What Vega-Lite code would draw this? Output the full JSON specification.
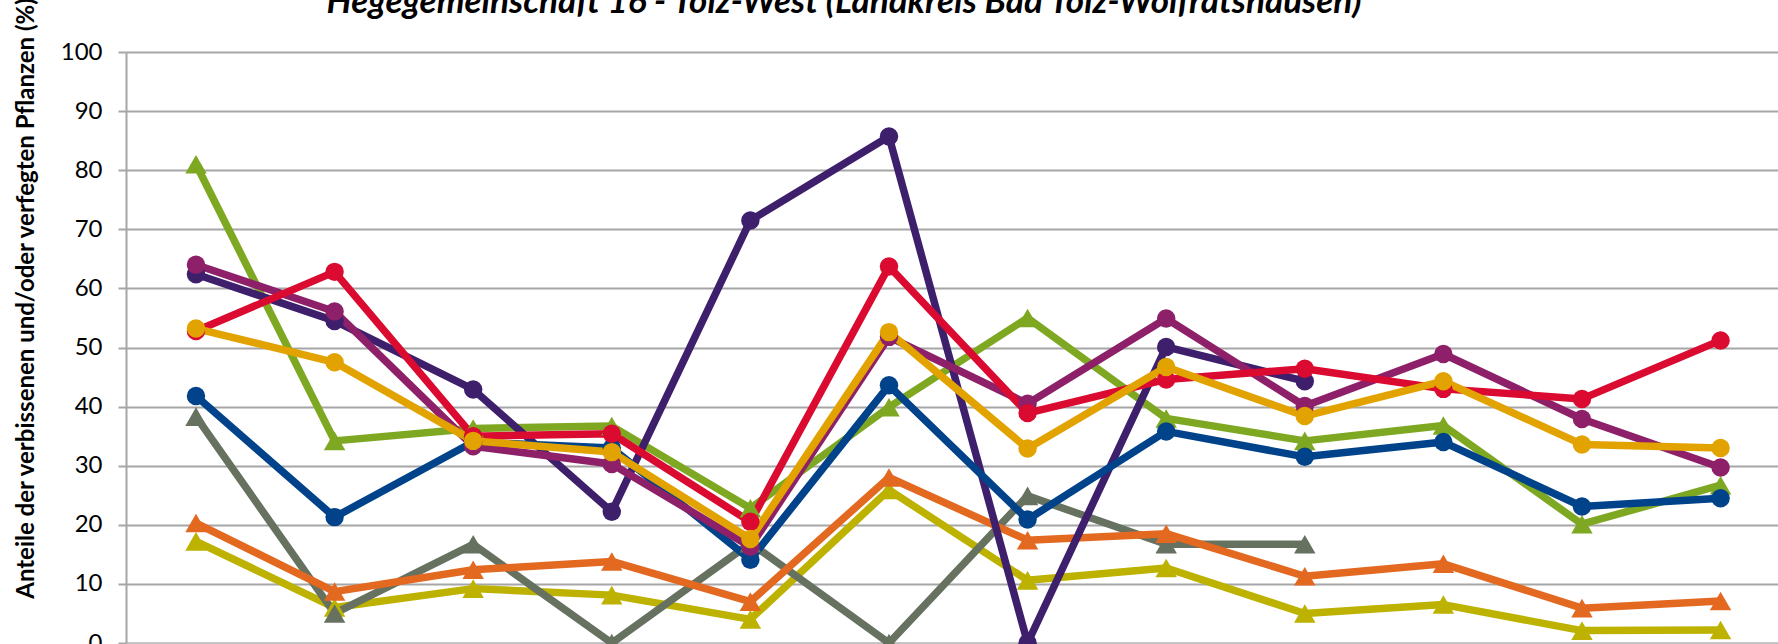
{
  "$schema": "https://vega.github.io/schema/vega-lite/v6.json",
  "autosize": {"type": "none"},
  "width": 1652,
  "height": 591,
  "padding": {"left": 126, "top": 52, "right": 0, "bottom": 1},
  "background": "white",
  "config": {"view": {"stroke": null}},
  "title": {
    "text": "Hegegemeinschaft 16 - Tölz-West (Landkreis Bad Tölz-Wolfratshausen)",
    "font": "Lato",
    "fontSize": 35,
    "fontWeight": "bold",
    "fontStyle": "italic",
    "color": "#000000",
    "anchor": "middle",
    "frame": "group",
    "dx": -108,
    "dy": 51,
    "baseline": "alphabetic",
    "offset": 0
  },
  "data": {
    "values": [
      {"Baumart": "Fichte", "Jahr": 1991, "Anteil": 17.2},
      {"Baumart": "Fichte", "Jahr": 1994, "Anteil": 6.0},
      {"Baumart": "Fichte", "Jahr": 1997, "Anteil": 9.2},
      {"Baumart": "Fichte", "Jahr": 2000, "Anteil": 8.1},
      {"Baumart": "Fichte", "Jahr": 2003, "Anteil": 4.0},
      {"Baumart": "Fichte", "Jahr": 2006, "Anteil": 25.9},
      {"Baumart": "Fichte", "Jahr": 2009, "Anteil": 10.6},
      {"Baumart": "Fichte", "Jahr": 2012, "Anteil": 12.7},
      {"Baumart": "Fichte", "Jahr": 2015, "Anteil": 5.0},
      {"Baumart": "Fichte", "Jahr": 2018, "Anteil": 6.5},
      {"Baumart": "Fichte", "Jahr": 2021, "Anteil": 2.1},
      {"Baumart": "Fichte", "Jahr": 2024, "Anteil": 2.2},

      {"Baumart": "Kiefer", "Jahr": 1991, "Anteil": 38.3},
      {"Baumart": "Kiefer", "Jahr": 1994, "Anteil": 5.0},
      {"Baumart": "Kiefer", "Jahr": 1997, "Anteil": 16.7},
      {"Baumart": "Kiefer", "Jahr": 2000, "Anteil": 0},
      {"Baumart": "Kiefer", "Jahr": 2003, "Anteil": 16.9},
      {"Baumart": "Kiefer", "Jahr": 2006, "Anteil": 0},
      {"Baumart": "Kiefer", "Jahr": 2009, "Anteil": 24.9},
      {"Baumart": "Kiefer", "Jahr": 2012, "Anteil": 16.7},
      {"Baumart": "Kiefer", "Jahr": 2015, "Anteil": 16.7},

      {"Baumart": "Lärche", "Jahr": 1991, "Anteil": 20.3},
      {"Baumart": "Lärche", "Jahr": 1994, "Anteil": 8.7},
      {"Baumart": "Lärche", "Jahr": 1997, "Anteil": 12.4},
      {"Baumart": "Lärche", "Jahr": 2000, "Anteil": 13.8},
      {"Baumart": "Lärche", "Jahr": 2003, "Anteil": 7.0},
      {"Baumart": "Lärche", "Jahr": 2006, "Anteil": 28.0},
      {"Baumart": "Lärche", "Jahr": 2009, "Anteil": 17.4},
      {"Baumart": "Lärche", "Jahr": 2012, "Anteil": 18.5},
      {"Baumart": "Lärche", "Jahr": 2015, "Anteil": 11.3},
      {"Baumart": "Lärche", "Jahr": 2018, "Anteil": 13.4},
      {"Baumart": "Lärche", "Jahr": 2021, "Anteil": 5.9},
      {"Baumart": "Lärche", "Jahr": 2024, "Anteil": 7.1},

      {"Baumart": "Buche", "Jahr": 1991, "Anteil": 81.0},
      {"Baumart": "Buche", "Jahr": 1994, "Anteil": 34.2},
      {"Baumart": "Buche", "Jahr": 1997, "Anteil": 36.3},
      {"Baumart": "Buche", "Jahr": 2000, "Anteil": 36.7},
      {"Baumart": "Buche", "Jahr": 2003, "Anteil": 22.8},
      {"Baumart": "Buche", "Jahr": 2006, "Anteil": 39.9},
      {"Baumart": "Buche", "Jahr": 2009, "Anteil": 55.0},
      {"Baumart": "Buche", "Jahr": 2012, "Anteil": 38.0},
      {"Baumart": "Buche", "Jahr": 2015, "Anteil": 34.2},
      {"Baumart": "Buche", "Jahr": 2018, "Anteil": 36.8},
      {"Baumart": "Buche", "Jahr": 2021, "Anteil": 20.1},
      {"Baumart": "Buche", "Jahr": 2024, "Anteil": 26.7},

      {"Baumart": "Eiche", "Jahr": 1991, "Anteil": 62.4},
      {"Baumart": "Eiche", "Jahr": 1994, "Anteil": 54.5},
      {"Baumart": "Eiche", "Jahr": 1997, "Anteil": 42.9},
      {"Baumart": "Eiche", "Jahr": 2000, "Anteil": 22.2},
      {"Baumart": "Eiche", "Jahr": 2003, "Anteil": 71.5},
      {"Baumart": "Eiche", "Jahr": 2006, "Anteil": 85.7},
      {"Baumart": "Eiche", "Jahr": 2009, "Anteil": 0},
      {"Baumart": "Eiche", "Jahr": 2012, "Anteil": 50.1},
      {"Baumart": "Eiche", "Jahr": 2015, "Anteil": 44.3},

      {"Baumart": "Tanne", "Jahr": 1991, "Anteil": 41.8},
      {"Baumart": "Tanne", "Jahr": 1994, "Anteil": 21.3},
      {"Baumart": "Tanne", "Jahr": 1997, "Anteil": 34.0},
      {"Baumart": "Tanne", "Jahr": 2000, "Anteil": 33.0},
      {"Baumart": "Tanne", "Jahr": 2003, "Anteil": 14.1},
      {"Baumart": "Tanne", "Jahr": 2006, "Anteil": 43.6},
      {"Baumart": "Tanne", "Jahr": 2009, "Anteil": 20.9},
      {"Baumart": "Tanne", "Jahr": 2012, "Anteil": 35.8},
      {"Baumart": "Tanne", "Jahr": 2015, "Anteil": 31.5},
      {"Baumart": "Tanne", "Jahr": 2018, "Anteil": 34.0},
      {"Baumart": "Tanne", "Jahr": 2021, "Anteil": 23.1},
      {"Baumart": "Tanne", "Jahr": 2024, "Anteil": 24.5},

      {"Baumart": "Edellaubholz", "Jahr": 1991, "Anteil": 64.0},
      {"Baumart": "Edellaubholz", "Jahr": 1994, "Anteil": 56.1},
      {"Baumart": "Edellaubholz", "Jahr": 1997, "Anteil": 33.3},
      {"Baumart": "Edellaubholz", "Jahr": 2000, "Anteil": 30.3},
      {"Baumart": "Edellaubholz", "Jahr": 2003, "Anteil": 16.3},
      {"Baumart": "Edellaubholz", "Jahr": 2006, "Anteil": 51.8},
      {"Baumart": "Edellaubholz", "Jahr": 2009, "Anteil": 40.5},
      {"Baumart": "Edellaubholz", "Jahr": 2012, "Anteil": 54.9},
      {"Baumart": "Edellaubholz", "Jahr": 2015, "Anteil": 40.1},
      {"Baumart": "Edellaubholz", "Jahr": 2018, "Anteil": 48.9},
      {"Baumart": "Edellaubholz", "Jahr": 2021, "Anteil": 37.9},
      {"Baumart": "Edellaubholz", "Jahr": 2024, "Anteil": 29.7},

      {"Baumart": "Sonstiges Laubholz", "Jahr": 1991, "Anteil": 52.8},
      {"Baumart": "Sonstiges Laubholz", "Jahr": 1994, "Anteil": 62.8},
      {"Baumart": "Sonstiges Laubholz", "Jahr": 1997, "Anteil": 35.0},
      {"Baumart": "Sonstiges Laubholz", "Jahr": 2000, "Anteil": 35.4},
      {"Baumart": "Sonstiges Laubholz", "Jahr": 2003, "Anteil": 20.5},
      {"Baumart": "Sonstiges Laubholz", "Jahr": 2006, "Anteil": 63.7},
      {"Baumart": "Sonstiges Laubholz", "Jahr": 2009, "Anteil": 38.9},
      {"Baumart": "Sonstiges Laubholz", "Jahr": 2012, "Anteil": 44.6},
      {"Baumart": "Sonstiges Laubholz", "Jahr": 2015, "Anteil": 46.4},
      {"Baumart": "Sonstiges Laubholz", "Jahr": 2018, "Anteil": 43.0},
      {"Baumart": "Sonstiges Laubholz", "Jahr": 2021, "Anteil": 41.3},
      {"Baumart": "Sonstiges Laubholz", "Jahr": 2024, "Anteil": 51.2},

      {"Baumart": "Laubholz gesamt", "Jahr": 1991, "Anteil": 53.2},
      {"Baumart": "Laubholz gesamt", "Jahr": 1994, "Anteil": 47.5},
      {"Baumart": "Laubholz gesamt", "Jahr": 1997, "Anteil": 34.2},
      {"Baumart": "Laubholz gesamt", "Jahr": 2000, "Anteil": 32.3},
      {"Baumart": "Laubholz gesamt", "Jahr": 2003, "Anteil": 17.6},
      {"Baumart": "Laubholz gesamt", "Jahr": 2006, "Anteil": 52.6},
      {"Baumart": "Laubholz gesamt", "Jahr": 2009, "Anteil": 32.9},
      {"Baumart": "Laubholz gesamt", "Jahr": 2012, "Anteil": 46.7},
      {"Baumart": "Laubholz gesamt", "Jahr": 2015, "Anteil": 38.4},
      {"Baumart": "Laubholz gesamt", "Jahr": 2018, "Anteil": 44.3},
      {"Baumart": "Laubholz gesamt", "Jahr": 2021, "Anteil": 33.6},
      {"Baumart": "Laubholz gesamt", "Jahr": 2024, "Anteil": 33.0}
    ]
  },
  "encoding": {
    "x": {
      "field": "Jahr",
      "type": "quantitative",
      "scale": {"domain": [1989.485, 2025.243], "nice": false, "zero": false},
      "axis": {"labels": false, "ticks": false, "title": null, "grid": false, "domainColor": "#bfbfbf", "domainWidth": 2}
    },
    "y": {
      "field": "Anteil",
      "type": "quantitative",
      "scale": {"domain": [0, 100], "nice": false},
      "axis": {
        "values": [0, 10, 20, 30, 40, 50, 60, 70, 80, 90, 100],
        "grid": true,
        "gridColor": "#a6a6a6",
        "gridWidth": 2,
        "domainColor": "#a6a6a6",
        "domainWidth": 2,
        "tickColor": "#a6a6a6",
        "tickWidth": 2,
        "tickSize": 8,
        "labelFont": "Lato",
        "labelFontSize": 24,
        "labelColor": "#000000",
        "labelPadding": 16,
        "title": "Anteile der verbissenen und/oder verfegten Pflanzen (%)",
        "titleFont": "Lato",
        "titleFontSize": 24,
        "titleFontWeight": "bold",
        "titleColor": "#000000",
        "titleAngle": -90,
        "titleAlign": "center",
        "titleBaseline": "middle",
        "titleX": -100,
        "titleY": 246
      }
    },
    "color": {
      "field": "Baumart",
      "type": "nominal",
      "scale": {
        "domain": ["Fichte", "Kiefer", "Lärche", "Buche", "Eiche", "Tanne", "Edellaubholz", "Sonstiges Laubholz", "Laubholz gesamt"],
        "range": ["#BDB200", "#667160", "#E36820", "#7FA822", "#3E1F6C", "#00438A", "#8D2068", "#DA0A30", "#E2A300"]
      },
      "legend": null
    }
  },
  "layer": [
    {"mark": {"type": "line", "strokeWidth": 7.5, "strokeJoin": "round"}},
    {
      "transform": [{"filter": {"field": "Baumart", "oneOf": ["Fichte", "Kiefer", "Lärche", "Buche"]}}],
      "mark": {"type": "point", "shape": "triangle-up", "filled": true, "opacity": 1, "size": 460}
    },
    {
      "transform": [{"filter": {"field": "Baumart", "oneOf": ["Eiche", "Tanne", "Edellaubholz", "Sonstiges Laubholz", "Laubholz gesamt"]}}],
      "mark": {"type": "point", "shape": "circle", "filled": true, "opacity": 1, "size": 340}
    }
  ]
}
